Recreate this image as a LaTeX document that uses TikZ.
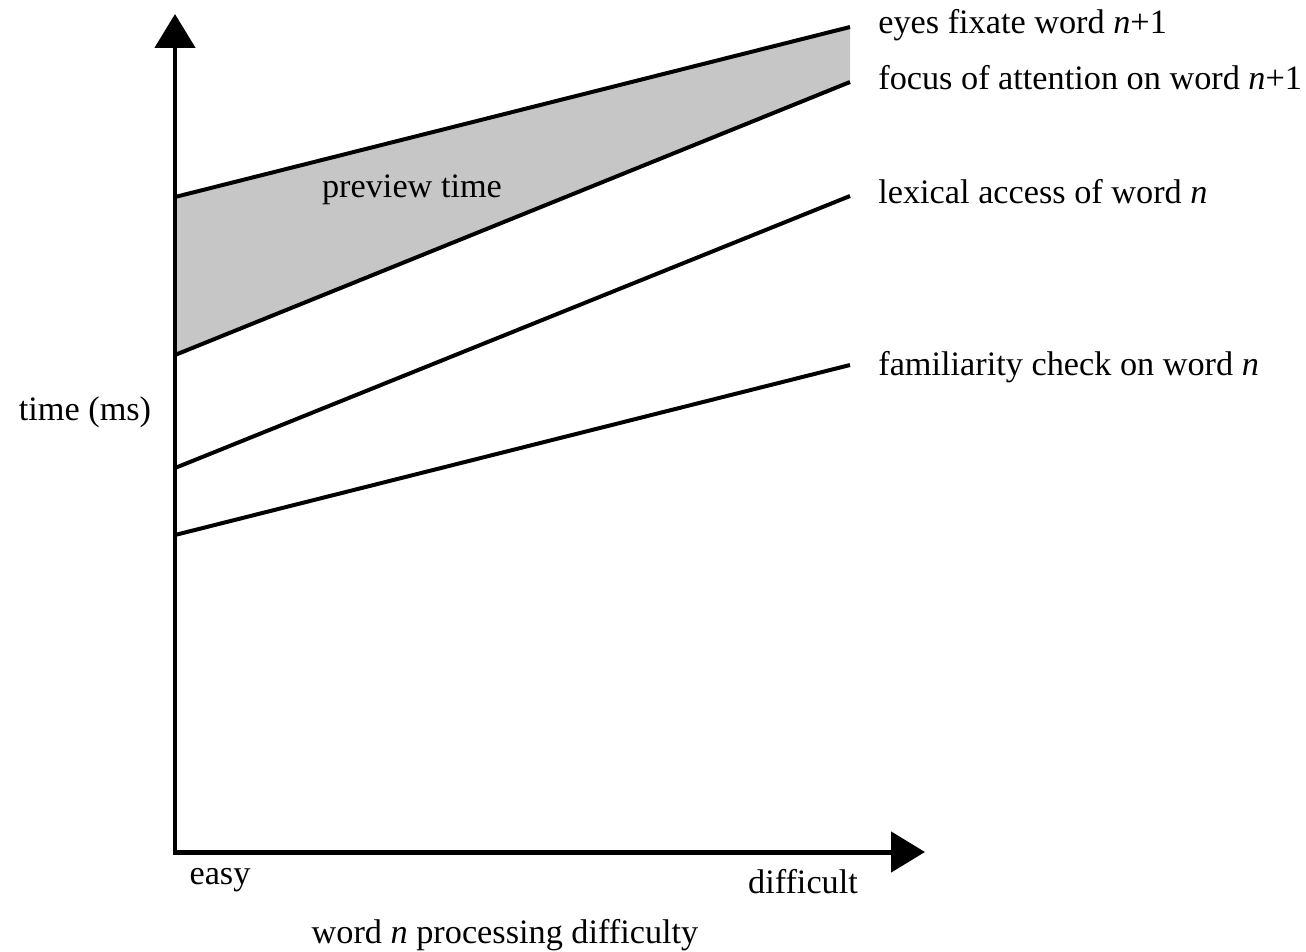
\documentclass[tikz,border=0pt]{standalone}
\usepackage{fontspec}
\setmainfont{Liberation Serif}
\usetikzlibrary{arrows.meta}

\tikzset{
  axis/.style={line width=5pt*0.5669, -{Triangle[length=0.68cm,width=0.8cm]}},
  curve/.style={line width=4pt*0.5669},
  lab/.style={inner sep=0pt, font=\fontsize{19.5}{23}\selectfont},
}

\begin{document}
\begin{tikzpicture}[x=0.02cm, y=-0.02cm]
        \useasboundingbox (0,0) rectangle (1306,951);

        % axes
        \coordinate (O) at (175,852);
        \coordinate (ytop) at (175,14);
        \coordinate (xend) at (925,852);

        % line end points
        \coordinate (eyesA) at (175,197);
        \coordinate (eyesB) at (850,27);
        \coordinate (focusA) at (175,355);
        \coordinate (focusB) at (850,82);
        \coordinate (lexA) at (175,468);
        \coordinate (lexB) at (850,196);
        \coordinate (famA) at (175,535);
        \coordinate (famB) at (850,365);

        % preview region
        \fill[gray!45] (eyesA) -- (eyesB) -- (focusB) -- (focusA) -- cycle;

        \draw[curve] (eyesA) -- (eyesB);
        \draw[curve] (focusA) -- (focusB);
        \draw[curve] (lexA) -- (lexB);
        \draw[curve] (famA) -- (famB);

        \draw[axis] (O) -- (ytop);
        \draw[axis] ([xshift=-2.5*0.5669pt]O) -- (xend);

        % labels
        \node (eyes) [lab, anchor=west] at (878,25) {eyes fixate word \textit{n}+1};
        \node (focus) [lab, anchor=west] at (878,78) {focus of attention on word \textit{n}+1};
        \node (lex) [lab, anchor=west] at (878,192) {lexical access of word \textit{n}};
        \node (fam) [lab, anchor=west] at (878,367) {familiarity check on word \textit{n}};
        \node (preview) [lab] at (412,190) {preview time};
        \node (time) [lab] at (85,412) {time (ms)};
        \node (easy) [lab] at (220,880) {easy};
        \node (difficult) [lab] at (803,882) {difficult};
        \node (xlabel) [lab] at (505,935) {word \textit{n} processing difficulty};
    \end{tikzpicture}
\end{document}
